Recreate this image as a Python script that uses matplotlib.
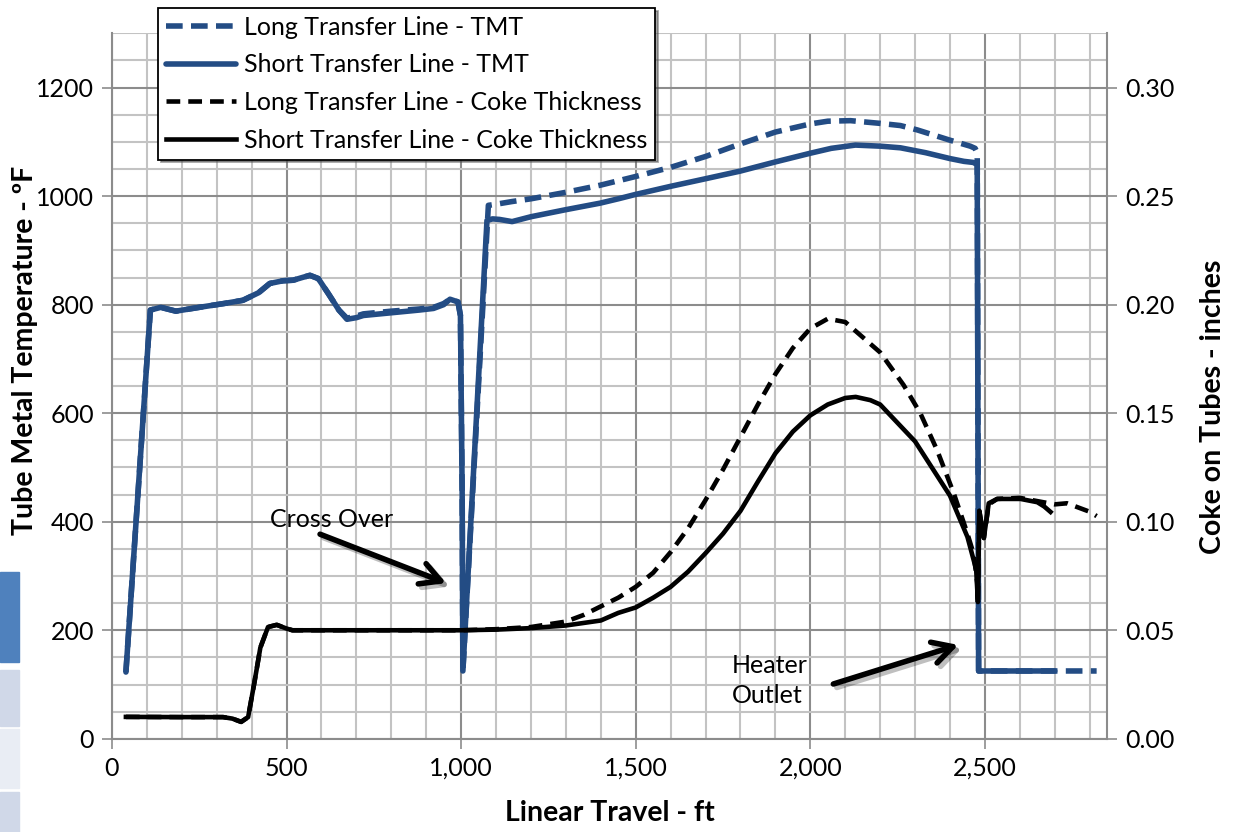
import matplotlib
matplotlib.use("Agg")
import matplotlib.pyplot as plt
from matplotlib.patches import Rectangle
from matplotlib.ticker import MultipleLocator, FuncFormatter
import matplotlib.patheffects as pe

plt.rcParams['font.family'] = ['Lato', 'DejaVu Sans']

# tube metal temperature, deg F
tmt_short_x = [40, 110, 140, 183, 250, 320, 375, 420, 452, 490, 519, 545, 567, 591, 620, 650, 673,
               700, 720, 800, 880, 921, 950, 968, 991, 998, 1003, 1005, 1074, 1090, 1110, 1146,
               1200, 1300, 1398, 1450, 1499, 1600, 1700, 1799, 1900, 2000, 2060, 2129, 2200,
               2258, 2330, 2401, 2440, 2467, 2478, 2482, 2600, 2700]
tmt_short_y = [123, 790, 795, 788, 795, 802, 808, 822, 839, 844, 845, 850, 854, 848, 820, 790, 773,
               776, 780, 785, 790, 793, 800, 810, 805, 780, 450, 125, 955, 958, 957, 953,
               962, 975, 987, 995, 1003, 1018, 1032, 1046, 1063, 1079, 1088, 1094, 1092,
               1089, 1080, 1069, 1064, 1062, 1058, 125, 125, 125]

tmt_long_x = [40, 110, 140, 183, 250, 320, 375, 420, 452, 490, 519, 545, 567, 591, 620, 650, 673,
              700, 720, 800, 880, 921, 950, 968, 991, 998, 1003, 1005, 1078, 1100, 1146, 1200,
              1300, 1398, 1499, 1600, 1700, 1799, 1900, 2000, 2050, 2115, 2200, 2258, 2306,
              2400, 2458, 2472, 2478, 2482, 2820]
tmt_long_y = [123, 790, 795, 788, 795, 802, 808, 822, 839, 844, 845, 850, 854, 848, 820, 790, 775,
              779, 783, 788, 792, 795, 802, 810, 805, 780, 450, 125, 983, 985, 990, 995,
              1007, 1020, 1036, 1053, 1073, 1096, 1118, 1133, 1138, 1139, 1134, 1130, 1122,
              1103, 1092, 1088, 1080, 125, 125]

# coke thickness, inches
coke_short_x = [40, 200, 318, 345, 370, 390, 408, 425, 447, 472, 500, 517, 800, 1000, 1100, 1200,
                1300, 1400, 1450, 1500, 1550, 1600, 1650, 1700, 1750, 1800, 1850, 1900, 1950,
                2000, 2050, 2100, 2130, 2172, 2200, 2300, 2400, 2450, 2475, 2480, 2484, 2497,
                2511, 2535, 2602, 2650, 2670, 2688]
coke_short_y = [0.0101, 0.0100, 0.0100, 0.0093, 0.0078, 0.0100, 0.0260, 0.0420, 0.0515, 0.0525,
                0.0508, 0.0500, 0.0500, 0.0500, 0.0503, 0.0510, 0.0522, 0.0545, 0.0580, 0.0605,
                0.0650, 0.0700, 0.0770, 0.0855, 0.0945, 0.1050, 0.1185, 0.1315, 0.1415, 0.1490,
                0.1540, 0.1570, 0.1575, 0.1560, 0.1540, 0.1370, 0.1120, 0.0930, 0.0780, 0.0630,
                0.1050, 0.0925, 0.1085, 0.1105, 0.1105, 0.1090, 0.1070, 0.1045]

coke_long_x = [40, 200, 318, 345, 370, 390, 408, 425, 447, 472, 500, 517, 800, 1000, 1100, 1200,
               1300, 1350, 1400, 1450, 1500, 1550, 1600, 1650, 1700, 1750, 1800, 1850, 1900, 1950,
               2000, 2050, 2100, 2200, 2267, 2315, 2363, 2411, 2449, 2468, 2478, 2480, 2484,
               2497, 2511, 2535, 2600, 2650, 2700, 2735, 2800, 2820]
coke_long_y = [0.0101, 0.0100, 0.0100, 0.0093, 0.0078, 0.0100, 0.0260, 0.0420, 0.0515, 0.0525,
               0.0508, 0.0500, 0.0500, 0.0500, 0.0505, 0.0515, 0.0540, 0.0570, 0.0610, 0.0650,
               0.0700, 0.0765, 0.0860, 0.0970, 0.1100, 0.1240, 0.1390, 0.1540, 0.1680, 0.1800,
               0.1890, 0.1935, 0.1920, 0.1780, 0.1630, 0.1500, 0.1330, 0.1130, 0.0950, 0.0850,
               0.0720, 0.0640, 0.1050, 0.0925, 0.1080, 0.1105, 0.1110, 0.1095, 0.1080, 0.1085,
               0.1046, 0.1026]

blue = '#234C84'
major_grid = '#8C8C8C'
minor_grid = '#C3C3C3'
fs = 18

fig = plt.figure(figsize=(12.37, 8.32), dpi=100)
ax = fig.add_axes([0.0905, 0.112, 0.8045, 0.848])

# decorative slide blocks at left edge
for y0, y1, c in [(572, 662, '#4F81BD'), (670, 726, '#D0D8E8'), (729, 788, '#E9EDF4'), (792, 832, '#D0D8E8')]:
    fig.patches.append(Rectangle((0, 1 - y1 / 832), 19 / 1237, (y1 - y0) / 832,
                                 transform=fig.transFigure, color=c, zorder=0))

l1, = ax.plot(tmt_long_x, tmt_long_y, color=blue, lw=4, dashes=(3, 1.5),
              label='Long Transfer Line - TMT')
l2, = ax.plot(tmt_short_x, tmt_short_y, color=blue, lw=4,
              label='Short Transfer Line - TMT', solid_joinstyle='round', solid_capstyle='round')

ax.set_xlim(0, 2850)
ax.set_ylim(0, 1300)
ax.xaxis.set_major_locator(MultipleLocator(500))
ax.xaxis.set_minor_locator(MultipleLocator(100))
ax.yaxis.set_minor_locator(MultipleLocator(50))
ax.set_yticks([0, 200, 400, 600, 800, 1000, 1200])
ax.xaxis.set_major_formatter(FuncFormatter(lambda v, p: f'{int(v):,}'))
ax.set_axisbelow(True)
ax.grid(which='major', color=major_grid, lw=1.5)
ax.grid(which='minor', color=minor_grid, lw=1.5)
ax.tick_params(which='major', direction='out', length=7, width=1.2, color=major_grid,
               labelsize=fs, pad=6)
ax.tick_params(which='minor', length=0)
for s in ['top', 'right']:
    ax.spines[s].set_visible(False)
for s in ['left', 'bottom']:
    ax.spines[s].set_color(major_grid)
    ax.spines[s].set_linewidth(1.5)

ax.set_xlabel('Linear Travel - ft', fontsize=20.5, fontweight='bold')
ax.xaxis.set_label_coords(0.5, -0.087)
ax.set_ylabel('Tube Metal Temperature - ºF', fontsize=20.5, fontweight='bold')
ax.yaxis.set_label_coords(-0.074, 0.55)

ax2 = ax.twinx()
l3, = ax2.plot(coke_long_x, coke_long_y, color='black', lw=3.3, dashes=(3, 1.75),
               label='Long Transfer Line - Coke Thickness')
l4, = ax2.plot(coke_short_x, coke_short_y, color='black', lw=3.3,
               label='Short Transfer Line - Coke Thickness', solid_joinstyle='round')
ax2.set_ylim(0, 0.325)
ax2.yaxis.set_major_locator(MultipleLocator(0.05))
ax2.yaxis.set_major_formatter(FuncFormatter(lambda v, p: f'{v:.2f}'))
ax2.tick_params(direction='out', length=7, width=1.2, color=major_grid, labelsize=fs, pad=6)
for s in ['top', 'left', 'bottom']:
    ax2.spines[s].set_visible(False)
ax2.spines['right'].set_color(major_grid)
ax2.spines['right'].set_linewidth(1.5)
ax2.set_ylabel('Coke on Tubes - inches', fontsize=20.5, fontweight='bold')
ax2.yaxis.set_label_coords(1.093, 0.47)

# annotations: text and arrows
shadow = [pe.SimpleLineShadow(offset=(2.5, -2.5), alpha=0.25), pe.Normal()]
ax.text(453, 405, 'Cross Over', fontsize=fs, ha='left', va='center')
ax.text(1774, 108, 'Heater\nOutlet', fontsize=fs, ha='left', va='center', linespacing=1.35)
for tail, head in [((596, 377), (957, 287)), ((2066, 101), (2424, 173))]:
    a = ax.annotate('', xy=head, xytext=tail,
                    arrowprops=dict(arrowstyle='->,head_length=0.55,head_width=0.3', lw=4,
                                    color='black', mutation_scale=26,
                                    shrinkA=0, shrinkB=0))
    a.arrow_patch.set_path_effects(shadow)

leg = fig.legend(handles=[l1, l2, l3, l4], loc='upper left',
                 bbox_to_anchor=(158 / 1237, 1 - 8 / 832), bbox_transform=fig.transFigure,
                 fontsize=18, frameon=True, fancybox=False, shadow=True, edgecolor='black',
                 framealpha=1, handlelength=2.8, labelspacing=0.58, borderpad=0.32,
                 handletextpad=0.3, borderaxespad=0)
leg.get_frame().set_linewidth(1.3)
leg.set_zorder(10)

fig.savefig('out.png', dpi=100)
